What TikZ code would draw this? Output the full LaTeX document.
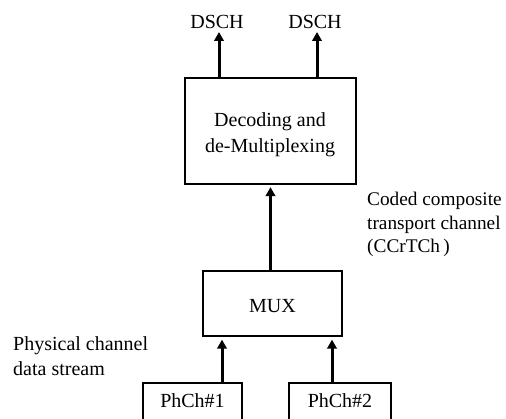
\documentclass[tikz,border=0pt]{standalone}
\usepackage{fontspec}
\setmainfont{Liberation Serif}
\usetikzlibrary{arrows.meta}
\begin{document}
\begin{tikzpicture}[x=1pt,y=-1pt,
  box/.style={draw=black, line width=1.3pt, fill=white, inner sep=0pt},
  lbl/.style={inner sep=0pt, font=\fontsize{20}{25}\selectfont},
  note/.style={inner sep=0pt, font=\fontsize{19.3}{24}\selectfont},
  arr/.style={line width=3pt, -{Triangle[length=9pt,width=9.5pt]}}]
  \useasboundingbox (0,0) rectangle (506,419);
  \clip (0,0) rectangle (506,419);

  % blocks
  \node[box, minimum width=171pt, minimum height=106pt] (dec) at (270.5,131) {};
  \node[box, minimum width=139pt, minimum height=65pt] (mux) at (272.5,303.5) {};
  \node[box, minimum width=99pt, minimum height=70pt] (p1) at (192.5,418) {};
  \node[box, minimum width=102pt, minimum height=70pt] (p2) at (340,418) {};

  % block texts
  \node[lbl, anchor=base] (dec1) at (270,127) {Decoding and};
  \node[lbl, anchor=base] (dec2) at (270,153) {de-Multiplexing};
  \node[lbl, anchor=base] (muxt) at (272.5,313) {MUX};
  \node[lbl, anchor=base] (p1t) at (192.5,408) {PhCh\#1};
  \node[lbl, anchor=base] (p2t) at (340,408) {PhCh\#2};

  % outputs
  \node[lbl, anchor=base] (o1) at (217,29) {DSCH};
  \node[lbl, anchor=base] (o2) at (315,29) {DSCH};
  \coordinate (t1) at (219,32);
  \coordinate (t2) at (317,32);

  % side notes
  \node[lbl, anchor=base west] (n1) at (13,351) {Physical channel};
  \node[lbl, anchor=base west] (n2) at (13,376) {data stream};
  \node[note, anchor=base west] (c1) at (367,206) {Coded composite};
  \node[note, anchor=base west] (c2) at (367,230) {transport channel};
  \node[note, anchor=base west] (c3) at (367,253) {(CCrTCh\,)};

  % connectors
  \coordinate (a1) at (222,0);
  \coordinate (a2) at (332,0);
  \draw[arr] (dec.north -| t1) -- (t1);
  \draw[arr] (dec.north -| t2) -- (t2);
  \draw[arr, shorten >=2.5pt] (mux.north -| dec.south) -- (dec.south);
  \draw[arr, shorten >=3pt] (p1.north -| a1) -- (mux.south -| a1);
  \draw[arr, shorten >=3pt] (p2.north -| a2) -- (mux.south -| a2);
\end{tikzpicture}
\end{document}
